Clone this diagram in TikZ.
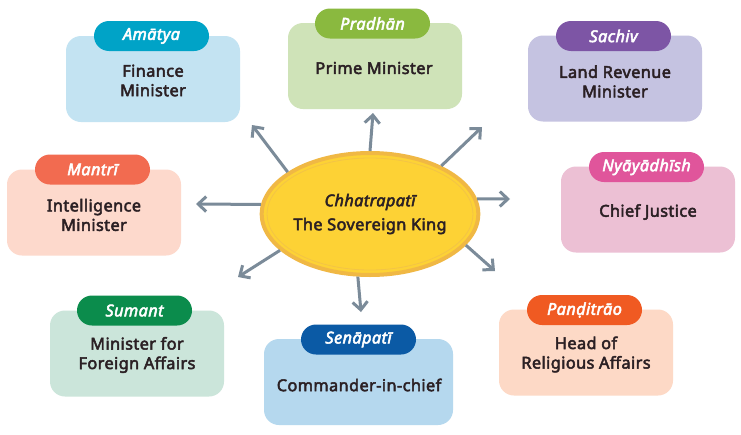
\documentclass[tikz,border=0pt]{standalone}
\usepackage{fontspec}
\setmainfont{Noto Sans}[FakeBold=3,LetterSpace=2.5]
\usetikzlibrary{arrows.meta,shapes.geometric,shapes.misc}
\definecolor{ink}{HTML}{2B2024}
\definecolor{arrowgrey}{HTML}{7B8B99}
\tikzset{
  x=1pt,y=-1pt,
  boxshape/.style={draw=none,rounded corners=15pt,minimum width=174pt,minimum height=86pt,inner sep=0pt,outer sep=0pt},
  pillshape/.style={draw=none,rounded rectangle,minimum width=115pt,minimum height=30pt,inner sep=0pt,text=white,font=\fontsize{16.3}{18}\selectfont\itshape},
  bodytext/.style={align=center,text=ink,inner sep=0pt,font=\fontsize{16.3}{19.5}\selectfont},
  spoke/.style={draw=arrowgrey,line width=3pt,-{Straight Barb[length=8pt,width=15pt,line width=3pt]}},
}
\begin{document}
\begin{tikzpicture}
\useasboundingbox[fill=white] (0,0) rectangle (741,434);
% boxes
\node[boxshape,fill={rgb,255:red,195;green,227;blue,242}] (amatyabox) at (153,79) {};
\node[pillshape,fill={rgb,255:red,0;green,163;blue,199}] (amatya) at (151.5,36) {Amātya};
\node[bodytext] (amatyatext) at (153,80.5) {Finance\\Minister};

\node[boxshape,fill={rgb,255:red,207;green,227;blue,184}] (pradhanbox) at (375,66) {};
\node[pillshape,fill={rgb,255:red,138;green,185;blue,63}] (pradhan) at (372.5,23.5) {Pradhān};
\node[bodytext] (pradhantext) at (374,68) {Prime Minister};

\node[boxshape,fill={rgb,255:red,197;green,195;blue,225}] (sachivbox) at (615,78.5) {};
\node[pillshape,fill={rgb,255:red,125;green,85;blue,165}] (sachiv) at (613.5,36) {Sachiv};
\node[bodytext] (sachivtext) at (615,81.5) {Land Revenue\\Minister};

\node[boxshape,fill={rgb,255:red,236;green,192;blue,212}] (nyayabox) at (648,209.5) {};
\node[pillshape,fill={rgb,255:red,224;green,85;blue,155}] (nyaya) at (646.5,167) {Nyāyādhīsh};
\node[bodytext] (nyayatext) at (648,212) {Chief Justice};

\node[boxshape,fill={rgb,255:red,253;green,217;blue,204}] (mantribox) at (94,212.5) {};
\node[pillshape,fill={rgb,255:red,242;green,107;blue,80}] (mantri) at (92.5,169.5) {Mantrī};
\node[bodytext] (mantritext) at (94,215) {Intelligence\\Minister};

\node[boxshape,fill={rgb,255:red,203;green,229;blue,218}] (sumantbox) at (137,353.5) {};
\node[pillshape,fill={rgb,255:red,11;green,140;blue,76}] (sumant) at (134.5,310.5) {Sumant};
\node[bodytext] (sumanttext) at (137,355) {Minister for\\Foreign Affairs};

\node[boxshape,minimum width=189pt,fill={rgb,255:red,181;green,216;blue,238}] (senapatibox) at (358.5,382) {};
\node[pillshape,fill={rgb,255:red,11;green,90;blue,165}] (senapati) at (358.5,339.5) {Senāpatī};
\node[bodytext] (senapatitext) at (359,385) {Commander-in-chief};

\node[boxshape,fill={rgb,255:red,253;green,217;blue,198}] (panditbox) at (586,352.5) {};
\node[pillshape,fill={rgb,255:red,240;green,90;blue,34}] (pandit) at (584.5,310) {Panḍitrāo};
\node[bodytext] (pandittext) at (586,354.5) {Head of\\Religious Affairs};

% king
\node[ellipse,draw={rgb,255:red,240;green,184;blue,68},line width=4pt,fill={rgb,255:red,253;green,210;blue,53},minimum width=216pt,minimum height=122pt,inner sep=0pt,outer sep=2pt,align=center,text=ink,font=\fontsize{16.3}{24}\selectfont] (king) at (370,214) {\itshape Chhatrapatī\\The Sovereign King};
\node[ellipse,draw={rgb,255:red,243;green,196;blue,70},line width=.8pt,minimum width=206pt,minimum height=112pt,inner sep=0pt] (kingring) at (370,214) {};

% free ends
\coordinate (endul) at (252,125);
\coordinate (endu) at (373,113);
\coordinate (endur) at (482,127);
\coordinate (endr) at (510,199);
\coordinate (endlr) at (495,271);
\coordinate (endd) at (361,312);
\coordinate (endll) at (238,277);
\coordinate (endl) at (196,204);
\draw[spoke] (king.153) -- (endul);
\draw[spoke] (king.90) -- (endu);
\draw[spoke] (king.34) -- (endur);
\draw[spoke] (king.8) -- (endr);
\draw[spoke] (king.-18) -- (endlr);
\draw[spoke] (king.259) -- (endd);
\draw[spoke] (king.202) -- (endll);
\draw[spoke] (king.175) -- (endl);
\end{tikzpicture}
\end{document}
